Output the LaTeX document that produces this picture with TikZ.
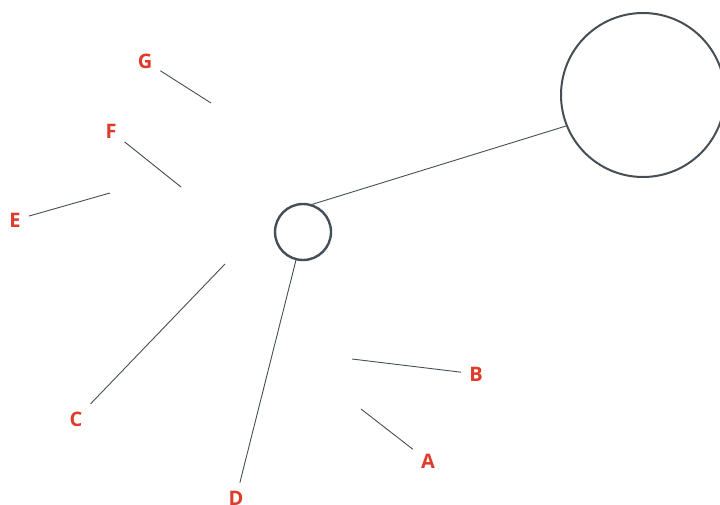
\documentclass[tikz,border=0pt]{standalone}
\usepackage{fontspec}
\setmainfont{Open Sans}
\definecolor{labred}{HTML}{DF3A2A}
\definecolor{edgegray}{HTML}{464E55}
\tikzset{
	lab/.style={text=labred, font=\fontsize{20}{24}\selectfont\bfseries, inner sep=8pt},
	ring/.style={circle, draw=edgegray, outer sep=0pt, inner sep=0pt},
	wire/.style={draw=edgegray, line width=0.9pt}
}
\begin{document}
\begin{tikzpicture}[x=1pt,y=-1pt]
	\useasboundingbox (0,0) rectangle (720,504);
	\clip (0,0) rectangle (720,504);
	
	\node (hub)[ring, line width=2.4pt, minimum size=56pt] at (303,232) {};
	\node (big)[ring, line width=2pt, minimum size=164pt] at (643,95) {};
	
	\node (G)[lab] at (145,61) {G};
	\node (F)[lab] at (111,131) {F};
	\node (E)[lab] at (15,220) {E};
	\node (C)[lab] at (76,419) {C};
	\node (D)[lab] at (236,498) {D};
	\node (B)[lab] at (476,374) {B};
	\node (A)[lab] at (428,461) {A};
	
	\coordinate (g) at (211,103);
	\coordinate (f) at (181,187);
	\coordinate (e) at (110,193);
	\coordinate (c) at (225,264);
	\coordinate (b) at (352,359);
	\coordinate (a) at (361,409);
	
	\draw[wire] (G) -- (g);
	\draw[wire] (F) -- (f);
	\draw[wire] (E) -- (e);
	\draw[wire] (C) -- (c);
	\draw[wire] (B) -- (b);
	\draw[wire] (A) -- (a);
	\draw[wire] (D) -- (hub.256);
	\draw[wire] (hub.75) -- (big.202);
\end{tikzpicture}
\end{document}
